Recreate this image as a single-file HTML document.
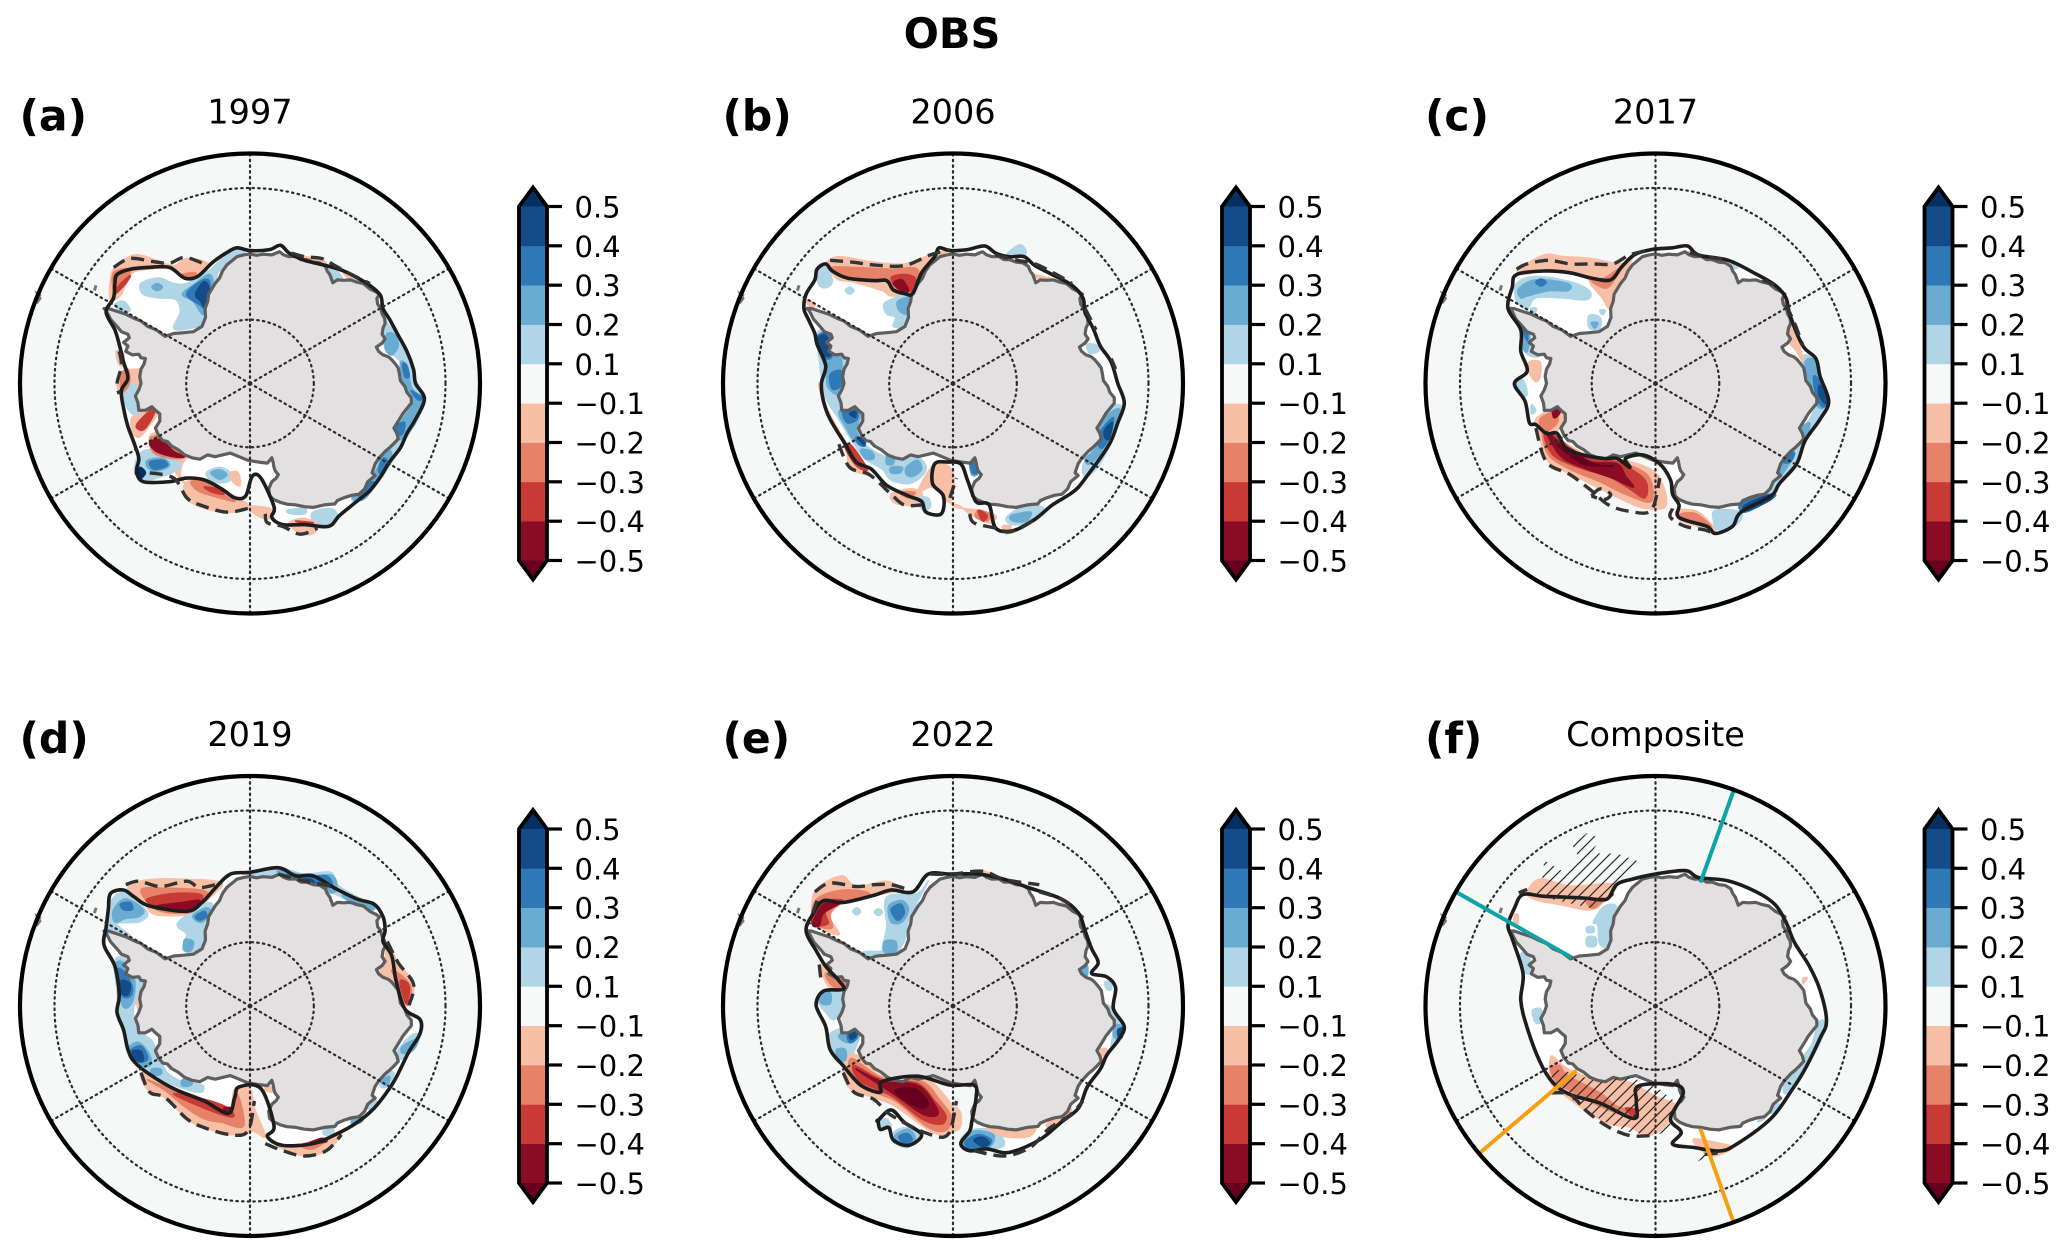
<!DOCTYPE html>
<html lang="en">
<head>
<meta charset="utf-8">
<title>OBS Antarctic sea-ice anomaly maps</title>
<style>
html,body{margin:0;padding:0;background:#fff}
svg{display:block}
text{font-family:"DejaVu Sans","Liberation Sans",sans-serif;fill:#000}
</style>
</head>
<body>
<svg id="chart" xmlns="http://www.w3.org/2000/svg" width="2067" height="1256" viewBox="0 0 2067 1256">
<defs>
<pattern id="hatch" patternUnits="userSpaceOnUse" width="11" height="11">
<path d="M-1 12L12 -1M-1 1L1 -1M10 12L12 10" stroke="#2a2a2a" stroke-width="1.2" fill="none"/>
</pattern>
</defs>
<text x="952" y="48" font-size="41.5" font-weight="bold" text-anchor="middle">OBS</text>
</svg>
<script>
/* ---------- colour scale data ---------- */
const levelBounds = [-0.5,-0.4,-0.3,-0.2,-0.1,0.1,0.2,0.3,0.4,0.5];
const tickLabels = ['\u22120.5','\u22120.4','\u22120.3','\u22120.2','\u22120.1','0.1','0.2','0.3','0.4','0.5'];
const bandColors = ['#8a0b24','#c73a35','#e58268','#f7bfa6','#f7f8f8','#afd5e7','#6aacd1','#2f79b7','#134c88'];
const underColor = '#67001f';
const overColor = '#053061';
/* ---------- graticule data ---------- */
const gridLats = [-80,-60];
const gridLons = [0,60,120,180,240,300];
const boundaryLat = -55;
/* ---------- panel labels ---------- */
const panelLetters = ['(a)','(b)','(c)','(d)','(e)','(f)'];
const panelTitles = ['1997','2006','2017','2019','2022','Composite'];
const poleX = [250,953,1655.5,250,953,1655.5];
const poleY = [383.5,383.5,383.5,1006,1006,1006];
/* digitised map frames: origin of the pole and map units per grid cell */
const frameX0 = [575,582,600,575,582,600];
const frameY0 = [850,850,850,862,862,836];
const frameSX = [2.294,2.294,2.339,2.294,2.294,2.339];
const frameSY = [2.8,2.8,2.8,2.82,2.82,2.925];
/* ---------- shared coastline (map units of frame a) ---------- */
const coastline = [575,487,590,491,605,488,625,490,643,481,652,490,665,495,680,494,692,503,705,503,720,510,735,512,748,522,752,535,758,545,765,568,775,560,790,561,805,560,820,566,835,570,850,585,862,592,872,600,866,612,868,628,875,640,878,655,884,668,885,682,880,695,878,712,885,725,878,737,865,748,870,760,880,770,892,775,900,783,908,795,915,806,918,825,920,842,930,858,935,875,945,890,945,905,935,920,925,935,918,950,905,975,912,990,915,1005,905,1018,895,1030,885,1040,870,1060,862,1075,855,1100,862,1108,845,1125,838,1145,825,1160,808,1163,790,1170,775,1178,770,1187,745,1190,720,1197,700,1195,680,1190,660,1188,645,1183,630,1175,620,1165,618,1145,625,1125,635,1115,640,1105,633,1095,630,1085,628,1070,625,1058,615,1073,595,1070,570,1065,550,1055,530,1045,512,1050,495,1055,478,1050,460,1062,442,1058,425,1050,410,1035,395,1025,385,1012,375,1010,365,995,358,975,368,955,368,935,358,925,350,915,335,925,320,925,318,905,312,885,320,868,325,850,322,830,325,810,332,795,335,780,325,778,320,768,305,770,290,760,295,745,285,735,298,722,295,712,280,705,270,690,255,670,245,645,240,640,250,640,270,648,290,656,310,668,325,675,340,690,360,700,380,718,400,710,420,708,445,705,465,690,473,665,472,640,478,620,480,600,495,570,505,555,512,535,522,518,535,505,545,495,560,490];
const coastSpeck = [85,625,93,612,88,600,95,605];
const coastSpeck2 = [218,590,222,575];
/* ---------- panel a ---------- */
const a_values = [-0.15,-0.25,-0.25,-0.35,0.15,0.25,0.35,0.45,0.25,0.15,0.15,0.25,0.25,0.25,0.35,0.35,0.35,0.35,0.35,-0.15,-0.25,-0.15,0.15,-0.15,-0.35,-0.15,-0.25,-0.45,0.15,0.25,0.35,0.55,0.15,0.25,-0.15,-0.25,-0.35,-0.15,-0.15,0.15,0.15,-0.15,-0.35,-0.15,0.15,-0.15,0.15,-0.15];
const a_shapes = [
[255,560,265,525,310,490,360,505,400,520,430,500,480,515,455,555,425,555,395,530,340,530,300,545,280,600,255,615],
[262,590,262,540,300,530,290,565,275,590],
[420,545,450,540,445,556],
[265,600,275,575,300,548,290,570],
[325,570,365,555,400,570,430,570,470,540,500,530,490,590,475,650,470,685,440,695,410,700,400,690,415,650,405,615,365,610,330,600],
[420,600,450,570,480,545,490,570,478,640,465,655,445,620],
[430,600,460,565,482,565,478,640,460,630],
[450,600,470,565,482,590,474,640,462,620],
[350,580,362,570,374,580,362,590],
[265,630,285,620,300,645,280,650],
[875,625,890,680,915,715,940,780,950,830,975,890,960,950,935,1000,915,1040,890,1090,860,1140,820,1180,810,1165,850,1110,880,1050,910,1010,930,930,945,900,925,850,920,790,885,750,880,690],
[890,710,908,715,915,745,900,770,885,750],
[920,790,935,800,945,860,960,880,970,890,960,930,930,1000,910,1000,920,960,945,910,935,870,925,840],
[880,1040,900,1045,880,1100,860,1140,835,1175,810,1170,845,1130,870,1080],
[925,795,935,800,940,830,930,830],
[915,965,930,960,925,990,910,995],
[945,870,970,890,960,895],
[880,1060,890,1070,875,1100,870,1090],
[845,1130,860,1130,835,1170,825,1165],
[318,810,335,810,320,850,300,880,280,880,270,850,285,815],
[280,825,295,810,298,850,280,875],
[305,945,340,920,360,905,365,930,340,975,320,1000,305,985],
[295,850,315,860,310,890,320,930,305,935,290,910,285,880],
[345,1000,365,990,400,1025,430,1050,420,1075,415,1105,425,1130,405,1100,395,1060,360,1045],
[315,965,345,925,355,910,355,935,335,975,322,980],
[470,1140,500,1145,515,1160,490,1155],
[345,1005,370,1000,405,1035,425,1055,400,1060,355,1045],
[345,1015,370,1008,400,1040,425,1055,400,1055,360,1040],
[320,1050,345,1035,390,1050,415,1080,395,1100,360,1115,330,1125,310,1095],
[340,1065,375,1060,390,1080,360,1095,340,1085],
[345,1070,375,1065,385,1080,355,1090],
[312,1100,323,1085,335,1100,323,1116],
[475,1100,505,1085,530,1100,525,1125,490,1125],
[485,1100,505,1092,522,1105,505,1118],
[430,1125,470,1120,510,1145,555,1175,570,1190,565,1205,510,1210,450,1190,425,1160],
[440,1125,475,1125,520,1165,540,1180,490,1165,455,1150],
[470,1140,500,1145,515,1160,490,1155],
[570,1195,620,1200,625,1225,600,1225],
[530,1100,548,1100,552,1135,535,1125],
[720,1210,760,1200,775,1220,750,1245,720,1235],
[660,1205,700,1200,700,1215,670,1215],
[665,1240,700,1228,730,1245,720,1270,690,1270],
[680,1235,720,1240,700,1242],
[670,490,740,505,745,520,690,515],
[755,525,775,535,790,565,765,565],
[790,540,850,575,845,590,810,565],
[520,490,550,472,565,480,530,505,500,540,480,540],
[268,760,285,765,282,800,272,790]
];
const a_edges = [[545,470,575,478,620,475,645,463,665,485,700,505,750,520,790,535,830,560,855,580,875,605,880,640,895,670,915,715,935,760,950,810,955,850,975,893,955,950,935,990,920,1030,895,1070,875,1110,850,1150,815,1185,780,1220,755,1250,700,1245,650,1245,625,1225,630,1195,600,1115,580,1110,565,1165,540,1170,510,1145,470,1120,430,1115,390,1125,330,1125,315,1095,320,1060,310,1020,295,970,285,920,280,870,295,835,285,790,275,740,265,700,245,650,262,610,265,570,270,545,300,530,340,525,390,525,425,555,455,550,490,510,520,485]];
const a_dashes = [[262,525,300,500,350,508,390,513,425,497,470,515],[670,485,700,495,740,500,770,520,800,540,850,570],[275,760,280,800,270,850,275,880],[345,1100,400,1115,430,1170,460,1190,520,1210,570,1200],[610,1215,615,1240,650,1250,690,1272,730,1255]];
/* ---------- panel b ---------- */
const b_values = [-0.15,-0.25,-0.35,-0.45,0.15,0.15,0.15,0.25,0.15,0.25,0.25,0.25,0.25,0.25,0.25,0.35,0.35,0.35,0.35,0.45,0.45,0.45,-0.15,-0.35,-0.15,-0.25,-0.35,-0.15,-0.25,0.15,0.25,0.35,0.15,0.25,-0.15,0.15,0.15,0.15,0.25,0.35,0.45,-0.15,-0.15,-0.15];
const b_shapes = [
[290,515,320,495,400,510,470,515,530,490,575,475,540,500,510,540,490,595,440,605,420,590,350,565,320,560,300,535],
[305,525,350,525,440,530,500,530,495,590,460,595,430,565,350,552,320,545],
[440,555,470,545,495,555,490,585,465,595],
[445,570,465,560,480,590,465,590],
[270,530,290,520,305,560,295,580,275,575],
[335,590,345,580,355,590,345,600],
[425,625,465,605,490,610,480,660,470,690,445,690,450,665,430,655],
[455,620,480,610,487,630,475,655,458,645],
[270,710,300,705,340,760,345,800,320,850,320,890,340,930,365,905,375,960,365,1000,390,1030,430,1055,490,1050,520,1080,510,1110,480,1130,440,1120,420,1090,380,1060,350,1010,320,950,290,890,280,830,275,780],
[270,720,295,710,325,780,325,830,320,880,295,860,290,810,275,760],
[320,930,345,910,370,930,360,980,375,1020,355,1010,335,970],
[370,1035,395,1040,400,1060,380,1060],
[430,1055,445,1050,445,1075,430,1075],
[440,1085,465,1085,460,1100,440,1100],
[475,1085,500,1065,510,1090,490,1110,475,1105],
[270,720,295,710,310,750,300,780,280,770],
[300,825,325,815,325,855,305,865],
[330,930,360,925,362,950,340,960],
[360,1000,378,1005,380,1025,365,1020],
[272,725,290,715,305,760,295,775,280,760],
[345,935,358,928,358,945],
[365,1005,378,1008,378,1022],
[275,850,285,900,335,1020,345,1085,390,1105,370,1070,340,1020,300,940],
[335,1030,350,1025,385,1090,360,1080],
[505,1140,540,1075,575,1085,585,1130,580,1190,640,1205,680,1220,665,1240,620,1215,600,1195,560,1175,555,1150,530,1140,510,1150],
[640,1205,665,1215,660,1235,635,1225],
[640,1205,660,1220,650,1235],
[440,1160,480,1145,510,1155,500,1190,450,1185],
[460,1155,495,1155,480,1170],
[505,1170,525,1170,530,1195,515,1205,500,1185],
[620,1060,635,1060,640,1100,625,1105],
[622,1075,636,1075,638,1100,626,1100],
[705,1225,750,1190,790,1200,770,1235,720,1245],
[715,1220,760,1210,750,1235,720,1235],
[695,1250,715,1250,705,1272],
[890,740,915,745,915,760,895,765],
[705,490,735,462,750,480,740,495],
[945,915,965,910,970,930,955,980,935,1040,910,1090,885,1110,880,1080,900,1040,915,990,930,950],
[920,970,945,930,965,925,945,990,925,1040,895,1075,885,1060,910,1030],
[920,985,950,945,940,1000,925,1030,915,1020],
[930,980,948,960,940,1005,930,1000],
[700,515,725,515,720,525],
[770,545,830,565,855,585,800,565,775,555],
[245,620,265,625,260,640]
];
const b_edges = [[240,640,245,600,265,560,270,530,290,515,305,535,340,555,400,562,430,562,445,588,470,598,490,598,510,540,540,495,550,470,575,478,615,475,655,465,680,485,710,495,745,495,770,520,810,545,855,575,880,610,885,650,905,700,920,745,945,790,960,850,975,905,960,960,945,1010,925,1050,895,1100,870,1140,850,1160,810,1190,770,1230,720,1262,680,1255,665,1190,640,1185,630,1170,615,1120,600,1075,570,1070,540,1075,535,1130,560,1165,555,1215,520,1210,510,1180,480,1165,430,1135,395,1090,360,1070,335,1020,300,950,285,900,280,850,290,800,270,740,265,710,250,670]];
const b_dashes = [[300,505,350,510,400,518,470,520,530,490,575,475],[680,490,730,505,770,515,820,545,855,570],[885,640,910,700],[945,780,955,810],[320,1020,345,1085,390,1105,440,1160,470,1190,510,1190],[575,1170,590,1115],[620,1215,630,1240,680,1255,715,1265,770,1230]];
/* ---------- panel c ---------- */
const c_values = [-0.15,-0.25,0.15,0.25,0.35,0.15,0.25,0.15,0.15,0.15,0.25,0.35,-0.15,0.15,0.15,-0.15,-0.25,-0.25,-0.35,-0.45,-0.55,-0.45,-0.15,-0.25,0.15,0.35,0.45,0.15,0.25,0.25,0.25,0.35,0.35,0.45,0.15,-0.15,-0.15,-0.15,-0.25];
const c_shapes = [
[280,530,340,490,385,495,450,500,520,515,550,490,510,580,495,620,490,640,475,610,450,575,440,555,400,540,340,535,290,545],
[450,560,480,555,515,530,490,580,465,575],
[275,570,320,550,400,565,445,590,440,615,380,610,320,610,300,640,275,620],
[280,585,320,560,395,570,395,590,350,590,300,605,285,610],
[320,567,332,557,344,567,332,577],
[445,660,470,665,470,695,445,695],
[450,680,465,680,458,695],
[308,640,322,640,315,655],
[470,645,482,645,476,658],
[285,700,305,705,310,750,330,770,315,775,295,760],
[290,710,305,710,300,760,290,750],
[290,700,300,700,300,730],
[305,790,330,790,330,830,320,845,305,820],
[270,850,290,840,300,880,285,885],
[310,910,320,925,310,935],
[320,950,350,925,385,910,390,950,370,990,400,1025,455,1055,510,1060,600,1100,625,1190,580,1200,540,1185,480,1150,430,1120,370,1085,345,1060,325,980],
[335,985,350,990,380,1020,430,1050,500,1065,580,1105,590,1180,530,1160,470,1125,400,1090,350,1050],
[330,950,365,930,370,960,340,985],
[340,990,370,1000,400,1030,450,1060,510,1070,575,1120,575,1170,540,1145,490,1110,420,1085,360,1050],
[345,985,380,1020,410,1040,450,1070,510,1075,530,1110,548,1140,500,1115,440,1090,380,1055],
[370,1020,410,1050,470,1080,500,1080,430,1075],
[360,910,382,905,375,935,362,945],
[650,1205,700,1210,740,1260,720,1255,660,1235],
[660,1215,695,1215,730,1250,700,1240,665,1228],
[740,1205,800,1210,790,1245,745,1260,735,1230],
[800,1185,870,1160,875,1170,810,1210],
[810,1190,865,1162,870,1175,815,1205],
[945,775,975,785,985,830,1005,900,985,950,950,1010,930,1075,890,1130,860,1170,860,1150,905,1050,935,1000,965,940,975,900,955,860],
[950,790,972,785,985,840,1000,890,990,920,970,900,960,850],
[935,980,960,960,955,995,940,1000],
[905,1050,925,1040,910,1080,890,1110],
[970,830,985,845,1003,900,990,915,975,880],
[905,1050,925,1045,915,1070,900,1070],
[985,855,1003,900,995,905,982,880],
[745,510,795,520,775,530],
[650,490,700,495,690,480],
[860,570,885,590,850,572],
[905,620,925,690,945,785,930,760,905,720,915,690],
[900,625,910,625,910,645]
];
const c_edges = [[275,545,340,535,400,540,450,555,495,560,520,525,550,490,590,475,640,470,675,465,700,490,770,505,830,540,880,575,905,610,915,660,945,745,975,780,985,830,1005,900,985,950,950,1010,930,1075,890,1130,870,1165,800,1210,780,1250,740,1270,720,1250,655,1225,655,1190,640,1160,635,1120,610,1075,570,1050,530,1060,540,1085,510,1060,480,1060,430,1050,390,1030,370,990,345,990,320,965,305,960,295,900,270,850,300,815,285,760,285,700,255,640,265,580]];
const c_dashes = [[275,530,300,515,350,505,400,515,450,515,500,515,540,490,590,475],[680,485,720,495,770,505],[850,560,880,575],[905,630,925,680,945,745],[320,975,345,1070,400,1105,450,1150,490,1190,540,1208,590,1205,610,1115],[450,1165,470,1145,495,1160,480,1175,450,1165],[640,1200,635,1225,670,1250,715,1260,735,1270]];
/* ---------- panel d ---------- */
const d_values = [-0.15,-0.25,-0.35,-0.45,0.15,0.25,0.35,0.15,0.25,0.25,0.35,0.15,0.25,0.25,0.25,0.25,0.35,0.35,0.45,0.45,-0.15,-0.15,-0.25,-0.35,-0.45,-0.15,-0.15,-0.25,-0.45,0.15,0.25,0.35,0.45,0.25,-0.15,-0.25,-0.35,0.15,0.25,0.15,0.25,0.15,0.25,0.15];
const d_shapes = [
[300,520,350,505,430,505,510,515,480,560,450,600,360,605,330,570,300,545],
[325,535,380,530,475,540,450,590,420,600,360,590],
[340,560,400,545,465,550,440,590,395,585,350,575],
[360,580,420,570,460,565,435,595,395,585],
[255,570,285,540,310,560,340,600,320,625,270,630,300,665,250,650],
[262,590,290,560,330,590,320,610,290,615,265,625],
[278,575,300,570,305,590,285,590],
[415,620,470,575,490,580,475,640,470,690,440,710,420,700,430,660,410,640],
[445,605,475,585,485,600,465,625,450,620],
[425,675,445,680,440,705,425,705],
[450,610,470,595,475,610,460,620],
[265,735,290,730,330,790,330,830,310,860,310,900,330,940,350,960,365,1000,385,1050,420,1075,465,1085,460,1105,400,1085,350,1050,300,1010,295,950,275,880,270,820],
[265,745,285,740,310,790,305,850,285,865,270,800],
[295,985,320,965,345,1000,345,1030,320,1025],
[350,1040,370,1040,370,1055,350,1055],
[420,1070,440,1070,440,1085,420,1088],
[270,760,290,770,305,810,300,835,280,830],
[300,990,325,975,340,1010,320,1020],
[280,790,300,800,295,830,280,825],
[305,990,325,990,330,1015,315,1015],
[315,845,325,835,320,875],
[325,1050,400,1095,460,1120,525,1160,540,1095,575,1095,585,1150,610,1230,580,1215,530,1225,470,1205,430,1180,380,1120,345,1105],
[340,1070,400,1100,460,1125,525,1160,545,1110,560,1200,510,1190,470,1180,430,1150,380,1100],
[400,1110,470,1125,525,1150,535,1175,480,1155],
[515,1150,535,1150,525,1165],
[615,1085,635,1105,610,1100],
[640,1255,720,1250,770,1225,785,1225,750,1270,700,1285,650,1265],
[690,1255,730,1240,755,1235,720,1265],
[710,1250,740,1235,750,1245],
[575,485,640,472,700,490,760,485,775,520,830,560,865,580,840,600,800,565,755,540,710,530,640,505,580,495],
[640,480,710,495,765,495,770,540,720,535,660,510],
[660,490,700,500,750,495,760,525,700,530],
[680,510,715,505,725,530,695,530],
[790,550,860,580,835,595,800,565],
[890,690,915,740,950,800,940,860,925,840,915,800,875,770,885,730],
[900,760,935,790,945,820,935,860,920,810],
[920,790,940,805,935,855,925,830],
[945,945,965,945,950,985,925,1010,905,1015,915,985],
[925,975,960,955,950,985,925,995],
[880,1055,905,1050,895,1085,875,1090],
[875,1075,895,1060,890,1085],
[845,1125,865,1130,860,1155,845,1150],
[810,1180,835,1175,830,1190,810,1195],
[745,1210,765,1200,765,1225,745,1225]
];
const d_edges = [[255,545,285,535,310,555,345,580,430,595,465,570,495,530,530,490,575,485,640,472,680,495,720,495,770,530,820,560,860,575,880,610,885,650,880,680,900,720,910,790,930,870,965,900,965,940,940,990,920,1040,900,1085,860,1150,815,1195,770,1225,720,1250,650,1255,615,1230,630,1200,600,1095,550,1090,540,1120,525,1165,470,1130,400,1095,345,1055,310,1020,295,985,285,930,270,880,275,830,265,750,240,690,245,640,250,590]];
const d_dashes = [[290,520,320,510,370,525,430,510,460,528,510,515],[640,490,700,510,770,525],[890,680,915,740,950,800,940,860],[325,1050,345,1105,380,1120,430,1180,470,1205,530,1225,570,1215,585,1130],[610,1250,650,1270,700,1285,750,1270,785,1225]];
/* ---------- panel e ---------- */
const e_values = [-0.15,-0.25,-0.35,-0.45,0.15,0.15,0.15,0.15,0.25,0.25,0.35,-0.15,-0.25,0.15,0.25,0.15,0.25,0.25,0.35,0.45,-0.15,-0.25,-0.35,-0.45,-0.55,0.15,0.15,0.25,0.35,0.15,0.25,0.35,0.45,-0.15,0.25,0.15,0.15,0.25,0.45,-0.15,-0.15,-0.15,-0.15,-0.15];
const e_shapes = [
[260,620,265,540,325,495,360,525,430,510,460,535,400,550,330,570,300,610,320,660,270,640],
[258,620,270,560,330,535,390,545,330,570,300,600,305,640,280,640],
[258,630,280,570,330,565,290,595,295,630],
[260,630,285,575,325,570,285,600,275,635],
[430,555,500,545,525,510,495,580,480,620,470,680,450,710,420,710,430,640],
[375,710,420,710,395,725,385,730],
[352,595,361,585,370,595,361,605],
[402,597,411,588,420,597,411,607],
[435,580,465,565,480,590,465,625,440,625],
[425,680,450,680,450,710,425,710],
[440,590,462,575,470,600,455,620],
[280,745,305,765,340,775,345,830,330,810,300,810,285,780],
[290,770,330,785,335,815,305,805],
[270,840,300,820,325,825,330,860,310,900,290,880],
[275,830,300,825,300,855,280,855],
[300,940,345,920,370,930,355,990,335,1030,310,1010,300,980],
[320,945,360,925,365,950,340,965],
[315,985,335,985,335,1015,318,1010],
[340,940,362,930,360,955,345,965],
[345,940,360,935,358,950,347,955],
[345,1000,375,1010,420,1060,510,1060,560,1110,600,1185,590,1205,570,1225,530,1215,450,1145,400,1120,350,1100,330,1050],
[350,1010,420,1065,510,1075,550,1125,580,1180,560,1215,520,1200,450,1130,390,1100,350,1060],
[355,1030,420,1070,500,1080,540,1130,565,1170,555,1195,510,1180,440,1115,370,1075],
[360,1040,420,1075,500,1085,540,1140,545,1170,510,1165,440,1105],
[450,1100,495,1095,525,1135,510,1150,475,1130],
[410,1190,430,1180,440,1205,415,1210],
[445,1220,475,1205,505,1230,480,1260,450,1250],
[450,1225,480,1210,495,1235,475,1255,455,1245],
[458,1230,478,1222,488,1240,470,1250],
[600,1240,630,1210,680,1215,700,1250,680,1265,630,1270],
[600,1245,630,1215,675,1225,665,1260,620,1270],
[610,1245,640,1225,670,1240,655,1262,620,1265],
[630,1240,650,1232,665,1248,650,1258],
[660,1205,720,1215,770,1205,755,1230,700,1230],
[878,755,890,748,890,775,880,770],
[930,795,945,795,945,815,935,815],
[930,860,950,870,975,920,965,960,945,975,950,930,935,890],
[955,915,975,925,965,955,950,945],
[960,930,972,925,970,950,962,950],
[920,985,935,985,925,1010],
[800,1190,850,1150,845,1180,805,1205],
[650,480,700,505,770,530,760,535,680,510],
[830,570,858,580,850,595],
[585,1150,600,1165,598,1205,580,1210]
];
const e_edges = [[262,600,285,565,330,570,400,550,440,535,490,540,525,490,575,490,640,490,700,505,760,530,830,560,870,600,885,650,900,700,915,740,900,770,935,780,955,810,950,870,975,920,960,960,935,1000,920,1040,890,1090,870,1150,830,1190,780,1240,710,1275,660,1265,620,1270,600,1250,620,1215,625,1190,635,1120,630,1085,575,1085,500,1060,420,1075,415,1105,370,1085,330,1030,300,985,290,920,268,860,285,820,330,815,320,790,290,750,270,710,245,650],[410,1185,440,1155,470,1190,510,1225,480,1255,445,1240,435,1205,415,1210,410,1185]];
const e_dashes = [[265,540,300,515,360,525,400,520,440,520,470,530],[530,490,580,490,650,482,700,505,780,520],[780,540,830,560,860,585],[275,745,280,800],[330,1050,355,1105,400,1125,440,1170,520,1220,570,1225,590,1130],[630,1270,700,1285,760,1260,800,1210,850,1170,880,1130],[270,565,255,620]];
/* ---------- panel f ---------- */
const f_values = [-0.15,-0.25,-0.15,0.15,0.15,0.15,0.15,0.15,-0.15,-0.15,-0.25,-0.35,-0.15,0.15,0.15,0.15,0.15,-0.15,-0.15];
const f_shapes = [
[300,505,330,465,400,485,505,480,480,530,445,555,380,540,320,525],
[440,530,480,520,455,550],
[270,570,278,570,278,595,270,595],
[455,590,480,545,510,550,495,655,470,655,465,600],
[440,605,455,605,455,620,440,620],
[440,635,460,635,460,660,440,660],
[285,685,305,685,305,740,290,730],
[312,850,332,845,335,880,320,885],
[340,803,350,803,345,812],
[355,985,375,1000,395,1020,460,1050,530,1055,600,1100,650,1130,620,1190,580,1215,540,1190,490,1180,440,1145,385,1095,355,1060],
[355,1020,375,1010,395,1040,470,1090,510,1130,550,1140,555,1165,480,1135,410,1090,370,1060],
[530,1135,555,1140,545,1155],
[690,1225,740,1235,780,1250,735,1275,700,1250],
[985,880,1000,885,990,930,950,1020,935,1005,965,950,975,910],
[905,1050,940,1025,920,1080,900,1090],
[870,1125,890,1125,870,1150],
[845,1160,855,1165,840,1175],
[850,540,870,550,860,558],
[945,755,955,755,945,770]
];
const f_edges = [[255,600,270,550,290,510,340,515,430,520,470,525,490,520,510,480,545,465,600,450,670,440,700,460,770,470,840,505,880,540,905,590,925,650,960,720,985,790,1000,880,985,930,950,1020,920,1080,870,1165,790,1240,750,1260,690,1250,640,1240,660,1205,635,1165,665,1090,640,1065,560,1070,555,1115,550,1165,470,1120,400,1095,360,1060,330,1000,300,900,285,820,290,740,265,640]];
const f_dashes = [[355,1090,400,1095,440,1145,490,1190,540,1215,590,1215],[280,505,300,495],[715,1270,755,1265]];
const f_hatches = [
[405,365,440,330,470,345,450,390,510,390,565,415,510,480,500,520,470,530,450,550,380,530,310,510,335,465,340,410,380,440,420,400],
[360,1020,400,1030,470,1060,530,1040,600,1070,650,1120,630,1200,600,1215,540,1205,490,1180,440,1145,385,1090,355,1060],
[940,670,965,690,955,715,940,690],
[690,1285,725,1250,735,1265,700,1290]
];
const f_tealSections = [[783,205,705,475],[130,500,405,695]];
const f_orangeSections = [[185,1270,415,1025],[783,1470,705,1195]];

/* ---------- assemble ---------- */
const panelValues = [a_values,b_values,c_values,d_values,e_values,f_values];
const panelShapes = [a_shapes,b_shapes,c_shapes,d_shapes,e_shapes,f_shapes];
const panelEdges = [a_edges,b_edges,c_edges,d_edges,e_edges,f_edges];
const panelDashes = [a_dashes,b_dashes,c_dashes,d_dashes,e_dashes,f_dashes];

const SVGNS = 'http://www.w3.org/2000/svg';
const root = document.getElementById('chart');
const mapRadius = 230;
const barLeft = 269, barWidth = 28, barHalf = 177, tipLen = 19;

function mk(parent, tag, attrs, text){
  const n = document.createElementNS(SVGNS, tag);
  for (const k in attrs) n.setAttribute(k, attrs[k]);
  if (text !== undefined) n.textContent = text;
  parent.appendChild(n);
  return n;
}
function latRadius(lat){
  const t = v => Math.tan((90 + v) / 2 * Math.PI / 180);
  return mapRadius * t(lat) / t(boundaryLat);
}
function colorScale(v){
  if (v < levelBounds[0]) return underColor;
  if (v > levelBounds[levelBounds.length - 1]) return overColor;
  for (let i = 0; i < bandColors.length; i++) {
    if (v <= levelBounds[i + 1]) return bandColors[i];
  }
  return overColor;
}
function barY(i, cy){
  return cy + barHalf - i * (2 * barHalf) / (levelBounds.length - 1);
}
function project(flat, p, frame){
  const pts = [];
  for (let i = 0; i < flat.length; i += 2) {
    pts.push([
      poleX[p] + (flat[i] - frameX0[frame]) / frameSX[frame],
      poleY[p] + (flat[i + 1] - frameY0[frame]) / frameSY[frame]
    ]);
  }
  return pts;
}
function straightPath(pts, closed){
  return 'M' + pts.map(q => q[0].toFixed(1) + ' ' + q[1].toFixed(1)).join('L') + (closed ? 'Z' : '');
}
function smoothPath(pts, closed){
  const n = pts.length;
  if (n < 3) return straightPath(pts, closed);
  const at = i => closed ? pts[(i + n) % n] : pts[Math.max(0, Math.min(n - 1, i))];
  let d = 'M' + pts[0][0].toFixed(1) + ' ' + pts[0][1].toFixed(1);
  const segs = closed ? n : n - 1;
  for (let i = 0; i < segs; i++) {
    const a = at(i - 1), b = at(i), c = at(i + 1), e = at(i + 2);
    d += 'C' + (b[0] + (c[0] - a[0]) / 6).toFixed(1) + ' ' + (b[1] + (c[1] - a[1]) / 6).toFixed(1) + ' ' +
      (c[0] - (e[0] - b[0]) / 6).toFixed(1) + ' ' + (c[1] - (e[1] - b[1]) / 6).toFixed(1) + ' ' +
      c[0].toFixed(1) + ' ' + c[1].toFixed(1);
  }
  return d + (closed ? 'Z' : '');
}

panelTitles.forEach(function (title, p) {
  const cx = poleX[p], cy = poleY[p];
  const g = mk(root, 'g', {});
  
  

  const ocean = mk(g, 'circle', {cx: cx, cy: cy, r: mapRadius, fill: '#f6f8f8'});
  
  

  const edges = panelEdges[p];
  edges.forEach(function (edge) {
    const fillZone = mk(g, 'path', {d: smoothPath(project(edge, p, p), true), fill: '#ffffff'});
    
    
  });

  const order = panelValues[p].map((v, i) => i).sort((m, n) => Math.abs(panelValues[p][m]) - Math.abs(panelValues[p][n]) || m - n);
  order.forEach(function (i) {
    const col = colorScale(panelValues[p][i]);
    const patch = mk(g, 'path', {d: smoothPath(project(panelShapes[p][i], p, p), true), fill: col, stroke: col, 'stroke-width': 1.6, 'stroke-linejoin': 'round'});
    
    
  });

  const land = mk(g, 'path', {d: straightPath(project(coastline, p, 0), true), fill: '#e3e0e1', stroke: '#5e5e5e', 'stroke-width': 3.2, 'stroke-linejoin': 'round'});
  
  

  [coastSpeck, coastSpeck2].forEach(function (sp) {
    const speck = mk(g, 'path', {d: straightPath(project(sp, p, 0), false), fill: 'none', stroke: '#777', 'stroke-width': 3});
    
    
  });

  edges.forEach(function (edge) {
    const solid = mk(g, 'path', {d: smoothPath(project(edge, p, p), true), fill: 'none', stroke: '#1d1d1d', 'stroke-width': 3.6, 'stroke-linejoin': 'round'});
    
    
  });
  panelDashes[p].forEach(function (dash) {
    const dashed = mk(g, 'path', {d: smoothPath(project(dash, p, p), false), fill: 'none', stroke: '#333', 'stroke-width': 3.4, 'stroke-dasharray': '13 7'});
    
    
  });

  if (p === 5) {
    f_hatches.forEach(function (h) {
      const hatch = mk(g, 'path', {d: straightPath(project(h, p, p), true), fill: 'url(#hatch)'});
      
      
    });
  }

  gridLats.forEach(function (lat) {
    const ring = mk(g, 'circle', {cx: cx, cy: cy, r: latRadius(lat).toFixed(1), fill: 'none', stroke: '#2b2b2b', 'stroke-width': 2.2, 'stroke-dasharray': '1.5 4.2', 'stroke-linecap': 'round'});
    
    
  });
  gridLons.forEach(function (lon) {
    const rad = lon * Math.PI / 180;
    const spoke = mk(g, 'line', {x1: cx, y1: cy, x2: (cx + mapRadius * Math.sin(rad)).toFixed(1), y2: (cy - mapRadius * Math.cos(rad)).toFixed(1), stroke: '#2b2b2b', 'stroke-width': 2.2, 'stroke-dasharray': '1.5 4.2', 'stroke-linecap': 'round'});
    
    
  });

  if (p === 5) {
    f_tealSections.forEach(function (s) {
      const q = project(s, p, p);
      const teal = mk(g, 'line', {x1: q[0][0], y1: q[0][1], x2: q[1][0], y2: q[1][1], stroke: '#0fa3a8', 'stroke-width': 4});
      
      
    });
    f_orangeSections.forEach(function (s) {
      const q = project(s, p, p);
      const orange = mk(g, 'line', {x1: q[0][0], y1: q[0][1], x2: q[1][0], y2: q[1][1], stroke: '#f79f12', 'stroke-width': 4});
      
      
    });
  }

  const border = mk(g, 'circle', {cx: cx, cy: cy, r: mapRadius, fill: 'none', stroke: '#000', 'stroke-width': 4.2});
  
  

  const titleText = mk(g, 'text', {x: cx, y: cy - 260, 'font-size': 33.5, 'text-anchor': 'middle'}, title);
  
  

  const letter = mk(g, 'text', {x: cx - 230.5, y: cy - 253, 'font-size': 42.5, 'font-weight': 'bold'}, panelLetters[p]);
  
  

  /* colourbar */
  const bar = mk(g, 'g', {});
  
  
  const bx = cx + barLeft;
  bandColors.forEach(function (col, i) {
    const y0 = barY(i + 1, cy), y1 = barY(i, cy);
    const band = mk(bar, 'rect', {x: bx, y: y0.toFixed(1), width: barWidth, height: (y1 - y0 + 0.4).toFixed(1), fill: col});
    
    
  });
  const tipTop = mk(bar, 'path', {d: 'M' + bx + ' ' + (cy - barHalf) + 'L' + (bx + barWidth / 2) + ' ' + (cy - barHalf - tipLen) + 'L' + (bx + barWidth) + ' ' + (cy - barHalf) + 'Z', fill: overColor});
  
  
  const tipBottom = mk(bar, 'path', {d: 'M' + bx + ' ' + (cy + barHalf) + 'L' + (bx + barWidth / 2) + ' ' + (cy + barHalf + tipLen) + 'L' + (bx + barWidth) + ' ' + (cy + barHalf) + 'Z', fill: underColor});
  
  
  const outline = mk(bar, 'path', {d: 'M' + bx + ' ' + (cy - barHalf) + 'L' + (bx + barWidth / 2) + ' ' + (cy - barHalf - tipLen) + 'L' + (bx + barWidth) + ' ' + (cy - barHalf) + 'V' + (cy + barHalf) + 'L' + (bx + barWidth / 2) + ' ' + (cy + barHalf + tipLen) + 'L' + bx + ' ' + (cy + barHalf) + 'Z', fill: 'none', stroke: '#000', 'stroke-width': 3.8, 'stroke-linejoin': 'miter'});
  
  
  tickLabels.forEach(function (label, i) {
    const y = barY(i, cy);
    const tick = mk(bar, 'line', {x1: bx + barWidth, y1: y.toFixed(1), x2: bx + barWidth + 15, y2: y.toFixed(1), stroke: '#000', 'stroke-width': 3.2});
    
    
    const tickText = mk(bar, 'text', {x: cx + 324.5, y: (y + 11).toFixed(1), 'font-size': 29}, label);
    
    
  });
});
</script>
</body>
</html>
